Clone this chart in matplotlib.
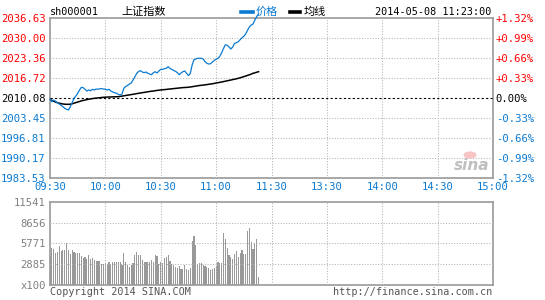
import matplotlib
matplotlib.use("Agg")
import matplotlib.pyplot as plt
from matplotlib.patches import Circle

# ---------------- data ----------------
prev_close = 2010.08
price_ticks = [1983.53, 1990.17, 1996.81, 2003.45, 2010.08, 2016.72, 2023.36, 2030.00, 2036.63]
pct_labels = ["-1.32%", "-0.99%", "-0.66%", "-0.33%", "0.00%", "+0.33%", "+0.66%", "+0.99%", "+1.32%"]
time_ticks = [0, 30, 60, 90, 120, 150, 180, 210, 240]
time_labels = ["09:30", "10:00", "10:30", "11:00", "11:30", "13:30", "14:00", "14:30", "15:00"]
vol_ticks = [0, 2885, 5771, 8656, 11541]
vol_labels = ["x100", "2885", "5771", "8656", "11541"]

price = [
    2009.65, 2008.85, 2009.42, 2008.98, 2008.52, 2008.09, 2007.66, 2007.19, 2006.66, 2006.33,
    2006.10, 2007.19, 2008.52, 2009.98, 2010.74, 2011.64, 2012.73, 2013.63, 2013.50, 2012.97,
    2012.40, 2012.73, 2012.50, 2012.97, 2012.73, 2013.07, 2012.97, 2013.17, 2013.17, 2013.07,
    2012.97, 2012.73, 2012.97, 2012.40, 2012.07, 2011.84, 2011.64, 2011.31, 2011.08, 2011.41,
    2013.30, 2013.90, 2014.23, 2014.73, 2015.06, 2016.05, 2017.15, 2018.28, 2018.87, 2019.14,
    2018.71, 2018.48, 2018.71, 2018.28, 2018.04, 2017.81, 2018.48, 2018.81, 2018.38, 2019.04,
    2019.60, 2019.60, 2019.80, 2019.94, 2020.47, 2019.87, 2019.60, 2019.21, 2018.94, 2018.48,
    2017.81, 2018.38, 2018.81, 2019.04, 2018.28, 2017.55, 2018.21, 2021.03, 2022.79, 2023.02,
    2023.26, 2023.26, 2023.26, 2023.02, 2022.13, 2021.60, 2021.36, 2021.46, 2022.03, 2022.59,
    2022.92, 2023.26, 2023.92, 2025.11, 2026.51, 2027.77, 2027.57, 2027.01, 2026.34, 2027.01,
    2028.23, 2028.43, 2028.76, 2029.43, 2030.09, 2030.56, 2031.32, 2032.55, 2033.64, 2034.31,
    2034.64, 2035.97, 2037.13, 2037.96,
]
avg_price = [
    2009.65, 2009.25, 2008.99, 2008.75, 2008.52, 2008.35, 2008.22, 2008.09, 2008.02, 2007.99,
    2007.99, 2008.02, 2008.16, 2008.35, 2008.55, 2008.75, 2008.92, 2009.12, 2009.28, 2009.42,
    2009.55, 2009.68, 2009.78, 2009.88, 2009.98, 2010.05, 2010.11, 2010.18, 2010.25, 2010.31,
    2010.35, 2010.38, 2010.41, 2010.43, 2010.45, 2010.48, 2010.50, 2010.51, 2010.61, 2010.71,
    2010.81, 2010.91, 2011.01, 2011.11, 2011.21, 2011.31, 2011.41, 2011.54, 2011.64, 2011.74,
    2011.84, 2011.94, 2012.04, 2012.14, 2012.24, 2012.34, 2012.40, 2012.50, 2012.60, 2012.67,
    2012.74, 2012.80, 2012.87, 2012.93, 2013.00, 2013.07, 2013.13, 2013.20, 2013.27, 2013.33,
    2013.40, 2013.47, 2013.53, 2013.57, 2013.60, 2013.66, 2013.73, 2013.83, 2013.93, 2014.03,
    2014.13, 2014.23, 2014.30, 2014.36, 2014.46, 2014.53, 2014.63, 2014.73, 2014.79, 2014.93,
    2015.06, 2015.16, 2015.29, 2015.39, 2015.52, 2015.66, 2015.79, 2015.92, 2016.05, 2016.19,
    2016.32, 2016.45, 2016.62, 2016.78, 2016.98, 2017.18, 2017.38, 2017.58, 2017.78, 2018.01,
    2018.28, 2018.44, 2018.64, 2018.81,
]
volume = [
    4031, 5190, 5004, 4494, 4633, 5421, 4772, 4865, 4865, 5791,
    4865, 4309, 4865, 4633, 4494, 4494, 4494, 4031, 3753, 3846,
    3614, 4170, 3660, 3800, 3475, 3382, 3382, 3336, 2965, 2965,
    3105, 2965, 3150, 2920, 3243, 3200, 3200, 3243, 3150, 2780,
    4403, 3243, 2780, 2548, 2780, 3012, 4170, 4633, 4170, 4170,
    3475, 3243, 3243, 3243, 3243, 3475, 3243, 4170, 4031, 2920,
    3243, 3012, 3707, 3939, 4170, 3382, 2920, 2780, 2548, 2317,
    2688, 2178, 2178, 2780, 2178, 2085, 2300, 6162, 6811, 5560,
    2920, 3012, 3105, 2780, 2688, 2548, 2317, 2085, 2178, 2400,
    2688, 3243, 3105, 3105, 7275, 6347, 5096, 4170, 3939, 3568,
    4309, 4772, 3846, 4401, 4865, 4309, 4309, 7553, 7878, 6023,
    4958, 5791, 6347, 1065,
]
minutes = list(range(len(price)))

# ---------------- style ----------------
RED = "#ff0000"
BLUE = "#0a7ad2"
GRAY = "#999999"
LBL_GRAY = "#808080"
MONO = "DejaVu Sans Mono"
CJK = ["Noto Sans CJK SC", "DejaVu Sans"]
FS = 7.6

fig = plt.figure(figsize=(5.45, 3.0), dpi=100)
fig.patch.set_facecolor("white")

W, H = 545.0, 300.0
def box(x0, y0, x1, y1):
    return [x0 / W, 1 - y1 / H, (x1 - x0) / W, (y1 - y0) / H]

ax = fig.add_axes(box(50, 18, 493, 178))
axv = fig.add_axes(box(50, 202, 493, 285))

grid_kw = dict(color="#b4b4b4", lw=0.75, linestyle=(0, (1, 1.6)), zorder=3)

# ---- main panel ----
ax.set_xlim(0, 240)
ax.set_ylim(price_ticks[0], price_ticks[-1])
for t in time_ticks[1:-1]:
    ax.axvline(t, **grid_kw)
for p in price_ticks[1:-1]:
    if p != prev_close:
        ax.axhline(p, **grid_kw)
ax.axhline(prev_close, color="black", lw=0.8, linestyle=(0, (2, 2)), zorder=3)
ax.plot(minutes, price, color=BLUE, lw=0.9, zorder=5, clip_on=False)
ax.plot(minutes, avg_price, color="black", lw=1.1, zorder=4)

ax.set_xticks(time_ticks)
ax.set_xticklabels(time_labels, fontfamily=MONO, fontsize=FS, color=BLUE)
ax.set_yticks(price_ticks)
ax.set_yticklabels([f"{p:.2f}" for p in price_ticks], fontfamily=MONO, fontsize=FS)
for lab, p in zip(ax.get_yticklabels(), price_ticks):
    lab.set_color(RED if p > prev_close else ("black" if p == prev_close else BLUE))
ax.tick_params(length=0, pad=3)
for s in ax.spines.values():
    s.set_color(GRAY)
    s.set_linewidth(1.2)

axr = ax.twinx()
axr.set_ylim(ax.get_ylim())
axr.set_yticks(price_ticks)
axr.set_yticklabels(pct_labels, fontfamily=MONO, fontsize=FS)
for lab, p in zip(axr.get_yticklabels(), price_ticks):
    lab.set_color(RED if p > prev_close else ("black" if p == prev_close else BLUE))
axr.tick_params(length=0, pad=2)
for s in axr.spines.values():
    s.set_visible(False)

# ---- volume panel ----
axv.set_xlim(0, 240)
axv.set_ylim(0, vol_ticks[-1])
axv.bar(minutes, volume, width=0.62, color=GRAY, linewidth=0, antialiased=False, zorder=2)
for t in time_ticks[1:-1]:
    axv.axvline(t, **grid_kw)
for v in vol_ticks[1:-1]:
    axv.axhline(v, **grid_kw)
axv.set_xticks([])
axv.set_yticks(vol_ticks)
axv.set_yticklabels(vol_labels, fontfamily=MONO, fontsize=FS, color=LBL_GRAY)
axv.tick_params(length=0, pad=3)
for s in axv.spines.values():
    s.set_color(GRAY)
    s.set_linewidth(1.2)

# ---- header texts ----
ty = 1 - 12 / H
fig.text(50 / W, ty, "sh000001", fontfamily=MONO, fontsize=7.3, va="center", ha="left")
fig.text(121 / W, ty, "上证指数", fontfamily=CJK, fontsize=8, va="center", ha="left")
fig.add_artist(plt.Line2D([241 / W, 253 / W], [ty, ty], color=BLUE, lw=2.6))
fig.text(256 / W, ty, "价格", fontfamily=CJK, fontsize=8, va="center", ha="left", color=BLUE)
fig.add_artist(plt.Line2D([290 / W, 300 / W], [ty, ty], color="black", lw=2.6))
fig.text(304 / W, ty, "均线", fontfamily=CJK, fontsize=8, va="center", ha="left")
fig.text(491 / W, ty, "2014-05-08 11:23:00", fontfamily=MONO, fontsize=7.3, va="center", ha="right")

# ---- footer texts ----
fy = 1 - 292 / H
fig.text(50 / W, fy, "Copyright 2014 SINA.COM", fontfamily=MONO, fontsize=7.3, va="center", ha="left", color="#555555")
fig.text(492 / W, fy, "http://finance.sina.com.cn", fontfamily=MONO, fontsize=7.3, va="center", ha="right", color="#555555")

# ---- sina watermark ----
fig.text(472 / W, 1 - 165 / H, "sina", fontfamily="DejaVu Sans", fontsize=11, fontweight="bold",
         fontstyle="italic", color="#b8b8b8", ha="center", va="center", alpha=0.9)
fig.add_artist(Circle((470 / W, 1 - 155 / H), 0.012, transform=fig.transFigure,
                      facecolor="#f7b6b6", edgecolor="none", alpha=0.8))

fig.savefig("out.png", dpi=100, facecolor="white")
